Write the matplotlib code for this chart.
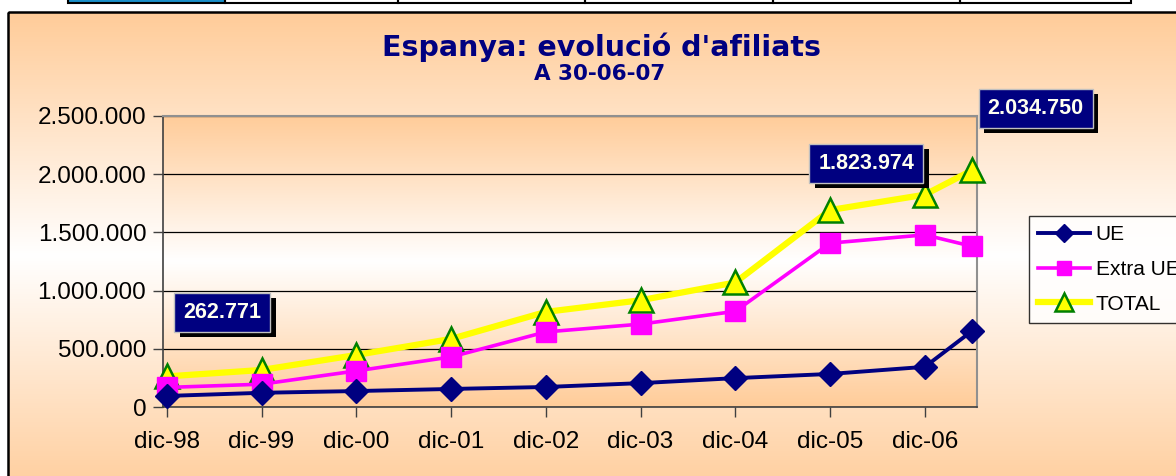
import numpy as np
import matplotlib
matplotlib.use("Agg")
from matplotlib import pyplot as plt
from matplotlib.patches import Rectangle
from matplotlib.ticker import FuncFormatter
import matplotlib.patheffects as pe

periods = ["dic-98", "dic-99", "dic-00", "dic-01", "dic-02", "dic-03",
           "dic-04", "dic-05", "dic-06", "jun-07"]
pos = [0, 1, 2, 3, 4, 5, 6, 7, 8, 8.5]
tick_labels = periods[:-1]
ue = [95000, 122000, 137000, 155000, 172000, 205000, 248000, 284000, 345000, 655000]
extra_ue = [168000, 196000, 310000, 430000, 645000, 712000, 822000, 1408000, 1479000, 1380000]
total = [262771, 318000, 447000, 585000, 817000, 917000, 1070000, 1692000, 1823974, 2034750]
labelled = [0, 8, 9]  # points of TOTAL with a value box

W, H = 1176, 476
PEACH = np.array([1.0, 0.80, 0.60])
NAVY = "#000080"


def fx(x):
    return x / W


def fy(y):
    return 1 - y / H


def gradient(n, center):
    # peach at both ends, white at center
    t = np.abs(np.linspace(0, 1, n) - center) / max(center, 1 - center)
    t = np.clip(t, 0, 1)[:, None]
    img = 1 - (1 - PEACH[None, :]) * t
    return img[:, None, :]


fig = plt.figure(figsize=(W / 100, H / 100), dpi=100)
fig.patch.set_facecolor("white")

# background layer in pixel coordinates
bg = fig.add_axes([0, 0, 1, 1], zorder=-10)
bg.set_xlim(0, W)
bg.set_ylim(H, 0)
bg.axis("off")
bg.imshow(gradient(200, 0.52), extent=(8, W + 5, H + 5, 12), aspect="auto",
          interpolation="bilinear")
bg.add_patch(Rectangle((8, 12), W, H, fill=False, edgecolor="black", lw=1.8))

# table fragment at the top
cells = [68, 225, 398, 585, 773, 960, 1131]
bg.add_patch(Rectangle((68, -5), 225 - 68, 8, facecolor="#1a8fc8", edgecolor="none"))
for i in range(len(cells) - 1):
    bg.add_patch(Rectangle((cells[i], -5), cells[i + 1] - cells[i], 8,
                           fill=False, edgecolor="black", lw=1.5))

fig.text(fx(601), fy(47), "Espanya: evolució d'afiliats", ha="center", va="center",
         fontsize=20.5, fontweight="bold", color=NAVY, family="DejaVu Sans")
fig.text(fx(600), fy(74), "A 30-06-07", ha="center", va="center",
         fontsize=15.5, fontweight="bold", color=NAVY, family="DejaVu Sans")

x0, x1, y0, y1 = 163, 977, 116, 407
ax = fig.add_axes([fx(x0), fy(y1), fx(x1 - x0), (y1 - y0) / H])
ax.set_xlim(-0.04, 8.55)
ax.set_ylim(0, 2500000)
ax.imshow(gradient(200, 0.5), extent=(-0.04, 8.55, 0, 2500000), aspect="auto",
          interpolation="bilinear", zorder=0)
ax.set_yticks(np.arange(0, 2500001, 500000))
ax.yaxis.set_major_formatter(FuncFormatter(lambda v, p: f"{v:,.0f}".replace(",", ".")))
ax.set_xticks(range(len(tick_labels)))
ax.set_xticklabels(tick_labels)
ax.grid(axis="y", color="black", lw=0.9, zorder=1)
ax.tick_params(axis="both", labelsize=17.5, length=7, width=1, color="#404040",
               direction="out")
ax.tick_params(axis="x", pad=10)
ax.tick_params(axis="y", pad=5)
for lab in ax.get_xticklabels() + ax.get_yticklabels():
    lab.set_family("Liberation Sans")
for s in ["top", "right"]:
    ax.spines[s].set_color("#909090")
    ax.spines[s].set_linewidth(1.5)
for s in ["left", "bottom"]:
    ax.spines[s].set_color("#404040")
    ax.spines[s].set_linewidth(1.2)

ax.plot(pos, total, color="#FFFF00", lw=4.5, marker="^", ms=17,
        markerfacecolor="#FFFF00", markeredgecolor="#008000", mew=1.8,
        label="TOTAL", zorder=3, clip_on=False)
ax.plot(pos, extra_ue, color="#FF00FF", lw=2.6, marker="s", ms=14,
        markerfacecolor="#FF00FF", markeredgecolor="#FF00FF",
        label="Extra UE", zorder=4, clip_on=False)
ax.plot(pos, ue, color=NAVY, lw=2.8, marker="D", ms=12.5,
        markerfacecolor=NAVY, markeredgecolor=NAVY,
        label="UE", zorder=5, clip_on=False)

# value boxes (axes fraction placement)
box_xy = {0: (0.0725, 0.326), 8: (0.864, 0.838), 9: (1.072, 1.027)}
for i in labelled:
    txt = f"{total[i]:,}".replace(",", ".")
    t = ax.text(*box_xy[i], txt, transform=ax.transAxes, ha="center", va="center",
                fontsize=15.5, fontweight="bold", color="#FFFFF0",
                family="Liberation Sans", zorder=10, clip_on=False,
                bbox=dict(boxstyle="square,pad=0.42", facecolor=NAVY,
                          edgecolor="#C0C0C0", lw=1))
    t.get_bbox_patch().set_path_effects([
        pe.SimplePatchShadow(offset=(4, -4), shadow_rgbFace="black", alpha=1),
        pe.Normal()])

h, l = ax.get_legend_handles_labels()
leg = fig.legend(h[::-1], l[::-1], loc="upper left",
                 bbox_to_anchor=(fx(1029), fy(216)), borderaxespad=0,
                 frameon=True, fancybox=False, edgecolor="black", facecolor="white",
                 prop={"family": "Liberation Sans", "size": 15},
                 handlelength=2.5, labelspacing=0.75, borderpad=0.45,
                 handletextpad=0.25, markerscale=0.75)
leg.get_frame().set_linewidth(1)

fig.savefig("out.png", dpi=100)
